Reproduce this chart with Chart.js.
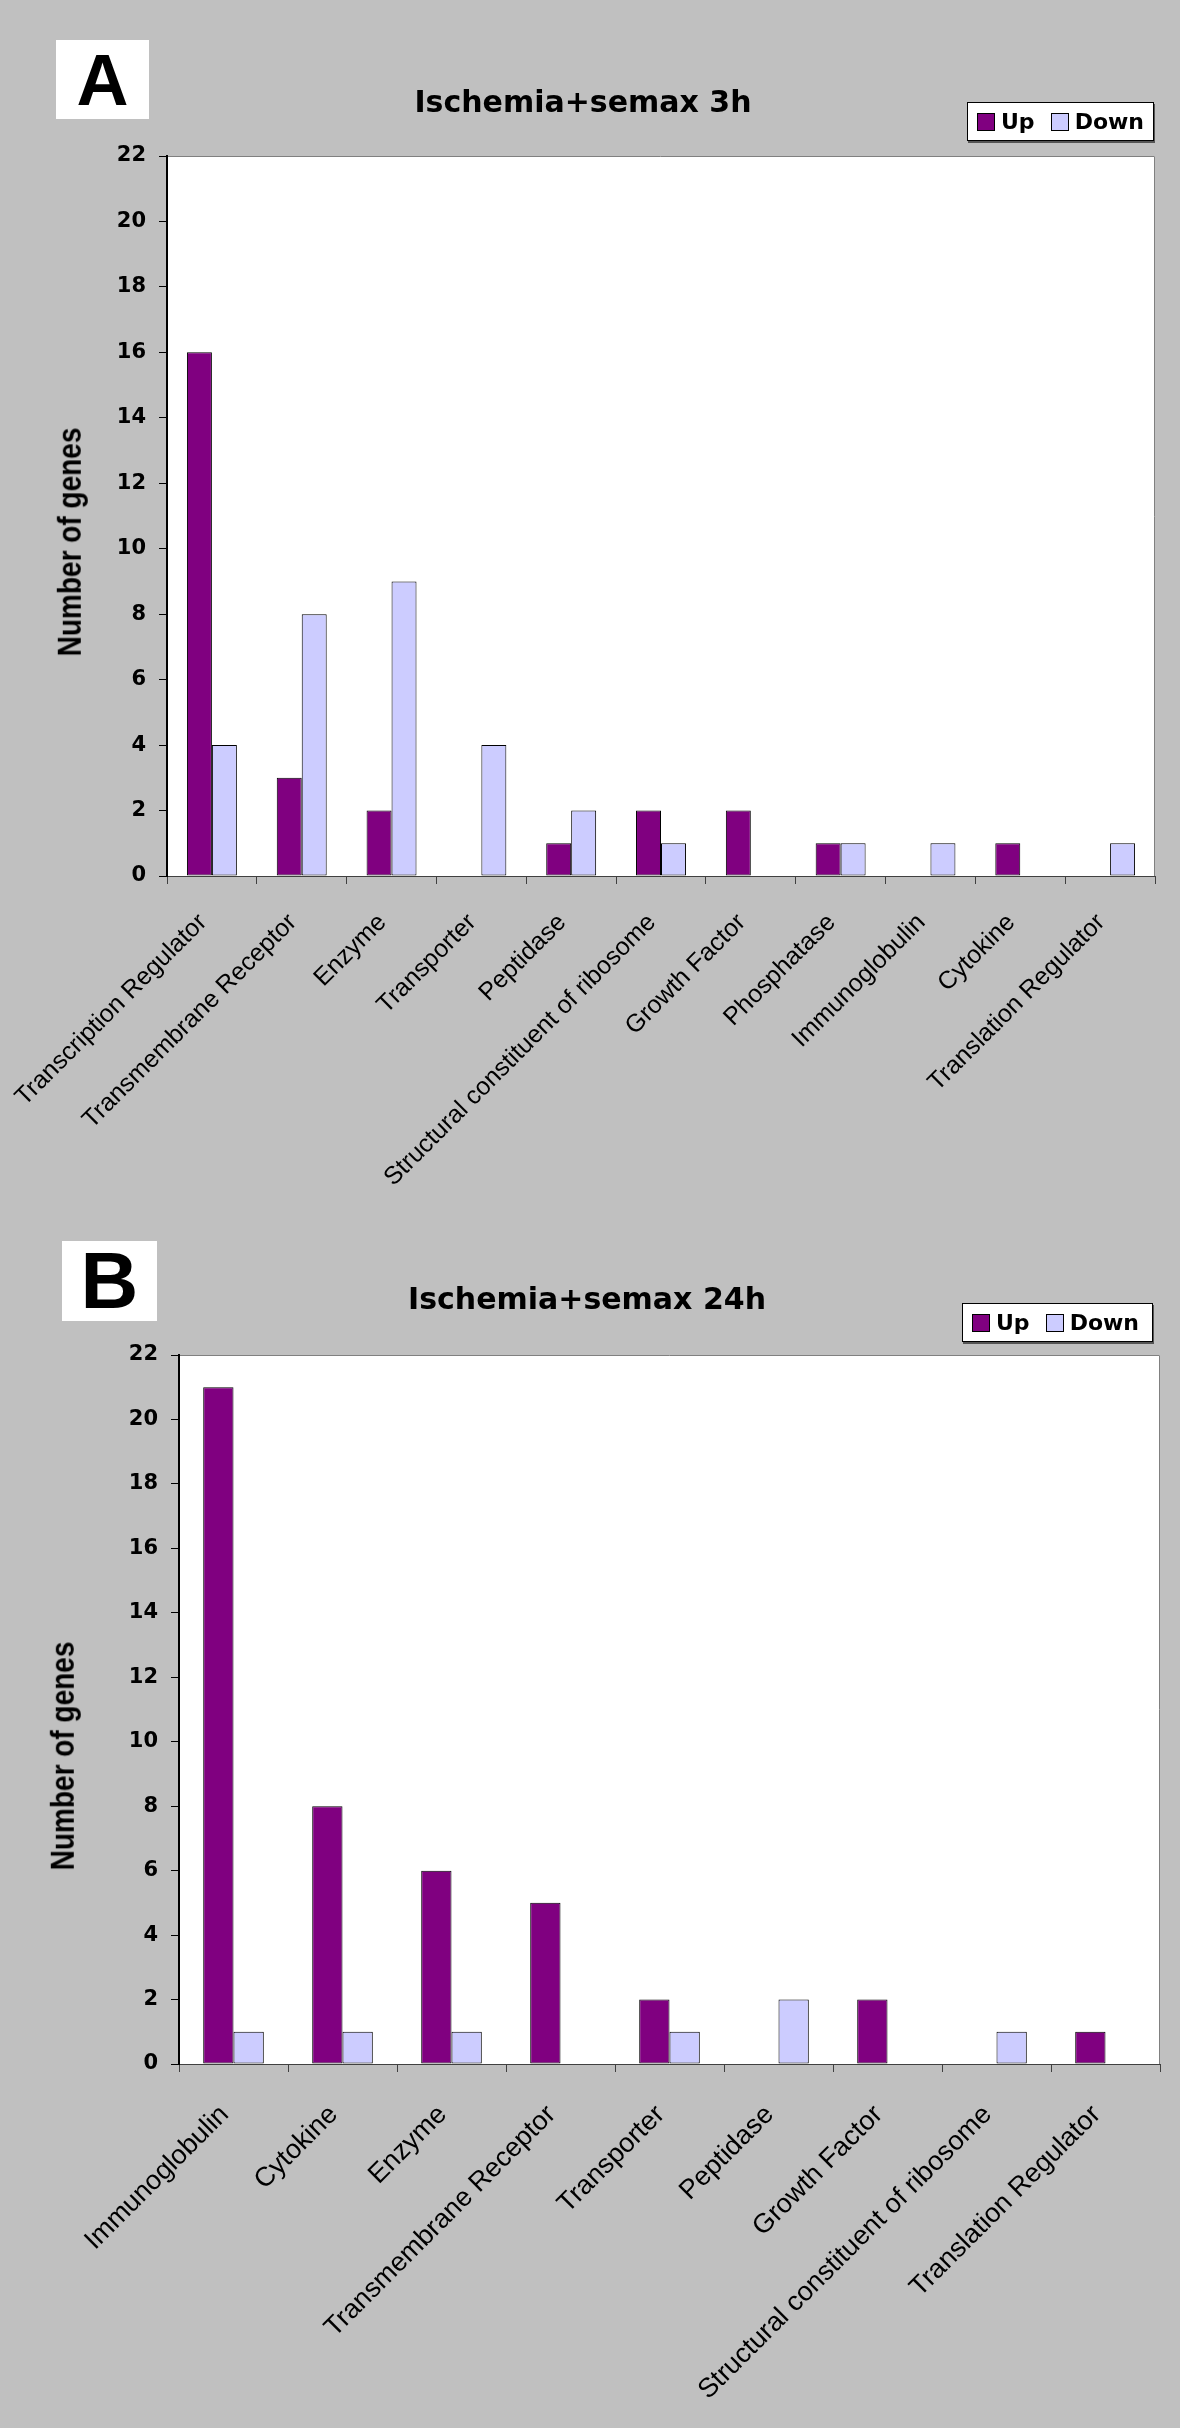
<!DOCTYPE html>
<html>
<head>
<meta charset="utf-8">
<script src="https://cdn.jsdelivr.net/npm/chart.js@4.4.0/dist/chart.umd.min.js"></script>
<style>
  html, body { margin: 0; padding: 0; background: #c0c0c0; }
  body { width: 1180px; height: 2428px; position: relative; overflow: hidden;
         font-family: Arial, "Liberation Sans", sans-serif; color: #000; }
  .panel { position: absolute; left: 0; width: 1180px; height: 1214px; }
  .panel canvas { position: absolute; left: 0; top: 0; }
  .letter { position: absolute; background: #fff; font-weight: bold;
            display: flex; align-items: center; justify-content: center; }
  .title { position: absolute; font-family: "DejaVu Sans", sans-serif; font-weight: bold;
           font-size: 30px; white-space: nowrap; transform: translate(-50%, -50%); }
  .legend { position: absolute; background: #fff; border: 1px solid #000; box-sizing: border-box;
            box-shadow: 1px 2px 0 #555; display: flex; align-items: center;
            font-family: "DejaVu Sans", sans-serif; font-weight: bold; font-size: 22px; }
  .sw { display: inline-block; width: 16px; height: 16px; border: 1px solid #000;
        margin: 0 6px 0 9px; }
  .ytitle { position: absolute; font-weight: bold; font-size: 28px; white-space: nowrap;
            transform: translate(-50%, -50%) rotate(-90deg) scaleY(1.2); }
</style>
</head>
<body>

<div class="panel" style="top:0">
  <canvas id="chartA" width="1180" height="1214"></canvas>
  <div class="letter" style="left:56px;top:40px;width:93px;height:79px;font-size:72px">A</div>
  <div class="title" style="left:583px;top:101px">Ischemia+semax 3h</div>
  <div class="legend" style="left:967px;top:102px;width:187px;height:39px">
    <span class="sw" style="background:#800080"></span>Up
    <span class="sw" style="background:#ccccff;margin-left:16px"></span>Down
  </div>
  <div class="ytitle" style="left:70px;top:542px">Number of genes</div>
</div>

<div class="panel" style="top:1214px">
  <canvas id="chartB" width="1180" height="1214"></canvas>
  <div class="letter" style="left:62px;top:27px;width:95px;height:80px;font-size:80px">B</div>
  <div class="title" style="left:587px;top:84px">Ischemia+semax 24h</div>
  <div class="legend" style="left:962px;top:89px;width:191px;height:39px">
    <span class="sw" style="background:#800080"></span>Up
    <span class="sw" style="background:#ccccff;margin-left:16px"></span>Down
  </div>
  <div class="ytitle" style="left:63px;top:542px">Number of genes</div>
</div>

<script>
// panel A: ischemia + semax 3h
const categoriesA = ["Transcription Regulator", "Transmembrane Receptor", "Enzyme", "Transporter",
  "Peptidase", "Structural constituent of ribosome", "Growth Factor", "Phosphatase",
  "Immunoglobulin", "Cytokine", "Translation Regulator"];
const upA = [16, 3, 2, 0, 1, 2, 2, 1, 0, 1, 0];
const downA = [4, 8, 9, 4, 2, 1, 0, 1, 1, 0, 1];

// panel B: ischemia + semax 24h
const categoriesB = ["Immunoglobulin", "Cytokine", "Enzyme", "Transmembrane Receptor",
  "Transporter", "Peptidase", "Growth Factor", "Structural constituent of ribosome",
  "Translation Regulator"];
const upB = [21, 8, 6, 5, 2, 0, 2, 0, 1];
const downB = [1, 1, 1, 0, 1, 2, 0, 1, 0];

const yTicks = { min: 0, max: 22, step: 2 };

const LABEL_FONT = 'Arial, "Liberation Sans", sans-serif';
const TICK_FONT = '"DejaVu Sans", sans-serif';

const plotBox = {
  id: "plotBox",
  beforeDraw(chart) {
    const { ctx, chartArea: a } = chart;
    ctx.save();
    ctx.fillStyle = "#fff";
    ctx.fillRect(a.left, a.top, a.right - a.left, a.bottom - a.top);
    ctx.strokeStyle = "#808080";
    ctx.lineWidth = 1;
    ctx.beginPath();
    ctx.moveTo(a.left, a.top + 0.5);
    ctx.lineTo(a.right - 0.5, a.top + 0.5);
    ctx.lineTo(a.right - 0.5, a.bottom);
    ctx.stroke();
    ctx.restore();
  }
};

function makeChart(id, labels, up, down, g) {
  const canvas = document.getElementById(id);
  return new Chart(canvas.getContext("2d"), {
    type: "bar",
    data: {
      labels,
      datasets: [
        { label: "Up", data: up, backgroundColor: "#800080" },
        { label: "Down", data: down, backgroundColor: "#ccccff" }
      ]
    },
    options: {
      responsive: false,
      animation: false,
      devicePixelRatio: 1,
      layout: { padding: { top: g.top, right: g.right, left: 0, bottom: 0 } },
      datasets: {
        bar: {
          categoryPercentage: 0.556,
          barPercentage: 1,
          borderWidth: 1,
          borderColor: "#000",
          borderSkipped: false
        }
      },
      plugins: { legend: { display: false }, tooltip: { enabled: false }, title: { display: false } },
      scales: {
        x: {
          grid: { drawOnChartArea: false, tickLength: 8, color: "#404040", offset: true },
          border: { color: "#404040", width: 1 },
          ticks: {
            color: "#000", font: { family: LABEL_FONT, size: g.labelSize },
            minRotation: 45, maxRotation: 45, autoSkip: false,
            padding: g.labelPad, labelOffset: -9
          },
          afterFit(s) {
            s.height = g.xh;
            // keep the rotated first label from pushing the plot area right
            s.paddingLeft = 0;
            s.paddingRight = 0;
          }
        },
        y: {
          min: yTicks.min, max: yTicks.max,
          ticks: { stepSize: yTicks.step, color: "#000", font: { family: TICK_FONT, size: 21, weight: "bold" }, padding: 13 },
          grid: { drawOnChartArea: false, tickLength: 8, color: "#000" },
          border: { color: "#000", width: 2 },
          afterFit(s) { s.width = g.yw; }
        }
      }
    },
    plugins: [plotBox]
  });
}

// chart area A: left 167, top 156, right 1155, bottom 876
makeChart("chartA", categoriesA, upA, downA,
  { top: 156, right: 25, xh: 338, yw: 167, labelSize: 25, labelPad: 24 });
// chart area B (canvas-local): left 179, top 141, right 1160, bottom 850
makeChart("chartB", categoriesB, upB, downB,
  { top: 141, right: 20, xh: 364, yw: 179, labelSize: 27, labelPad: 27 });
</script>
</body>
</html>
